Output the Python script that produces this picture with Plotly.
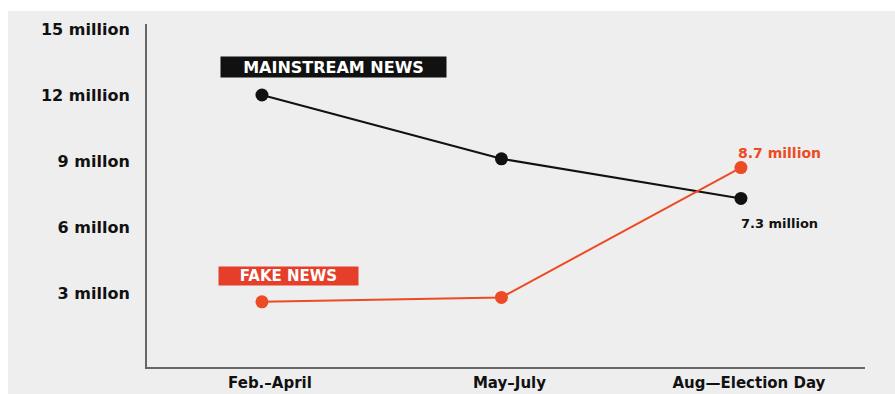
import plotly.graph_objects as go

# Audience reached per period, in millions
periods = ["Feb.–April", "May–July", "Aug—Election Day"]
mainstream = [12.0, 9.1, 7.3]
fake = [2.6, 2.8, 8.7]

y_ticks = [3, 6, 9, 12, 15]
y_tick_text = ["3 millon", "6 millon", "9 millon", "12 million", "15 million"]

FONT = "DejaVu Sans"
BLACK = "#111111"
ORANGE = "#ec4b25"
RED_BOX = "#e53f2b"
BG = "#eeeeee"

x_idx = list(range(len(periods)))

fig = go.Figure()

fig.add_trace(go.Scatter(
    x=x_idx, y=mainstream, mode="lines+markers",
    line=dict(color=BLACK, width=2),
    marker=dict(color=BLACK, size=13),
    hoverinfo="skip", showlegend=False,
))
fig.add_trace(go.Scatter(
    x=x_idx, y=fake, mode="lines+markers",
    line=dict(color=ORANGE, width=2),
    marker=dict(color=ORANGE, size=13),
    hoverinfo="skip", showlegend=False,
))

# light grey panel behind the whole graphic
fig.add_shape(
    type="rect", xref="paper", yref="paper",
    x0=-0.1936, x1=1.05, y0=-0.09, y1=1.0379,
    fillcolor=BG, line=dict(width=0), layer="below",
)

# series name tags
fig.add_annotation(
    x=0, y=mainstream[0], xref="x", yref="y",
    text="<b>MAINSTREAM NEWS</b>", showarrow=False,
    xanchor="left", yanchor="middle", xshift=-42, yshift=28,
    width=225, height=20, align="center",
    bgcolor=BLACK, borderpad=0,
    font=dict(family=FONT, size=16, color="white"),
)
fig.add_annotation(
    x=0, y=fake[0], xref="x", yref="y",
    text="<b>FAKE NEWS</b>", showarrow=False,
    xanchor="left", yanchor="middle", xshift=-44, yshift=26,
    width=139, height=18, align="center",
    bgcolor=RED_BOX, borderpad=0,
    font=dict(family=FONT, size=15, color="white"),
)

# end-point value labels
fig.add_annotation(
    x=2, y=fake[2], xref="x", yref="y",
    text=f"<b>{fake[2]:.1f} million</b>", showarrow=False,
    xanchor="center", yanchor="middle", xshift=39, yshift=15,
    font=dict(family=FONT, size=14, color=ORANGE),
)
fig.add_annotation(
    x=2, y=mainstream[2], xref="x", yref="y",
    text=f"<b>{mainstream[2]:.1f} million</b>", showarrow=False,
    xanchor="center", yanchor="middle", xshift=39, yshift=-25,
    font=dict(family=FONT, size=13, color=BLACK),
)

fig.update_xaxes(
    range=[-0.48, 2.518],
    tickmode="array", tickvals=x_idx,
    ticktext=[f"<b>{p}</b>" for p in periods],
    tickfont=dict(family=FONT, size=15, color=BLACK),
    ticks="", ticklabelshift=8, ticklabelstandoff=1,
    showgrid=False, zeroline=False, automargin=False,
    showline=True, linecolor="#666666", linewidth=2,
)
fig.update_yaxes(
    range=[-0.364, 15.227],
    tickmode="array", tickvals=y_ticks,
    ticktext=[f"<b>{t}</b>" for t in y_tick_text],
    tickfont=dict(family=FONT, size=16, color=BLACK),
    ticks="", ticklabelstandoff=12,
    showgrid=False, zeroline=False, automargin=False,
    showline=True, linecolor="#666666", linewidth=2,
)

fig.update_layout(
    width=895, height=394,
    margin=dict(l=147, r=30, t=24, b=27),
    paper_bgcolor="white",
    plot_bgcolor="rgba(0,0,0,0)",
)

fig.write_html("out.html")
